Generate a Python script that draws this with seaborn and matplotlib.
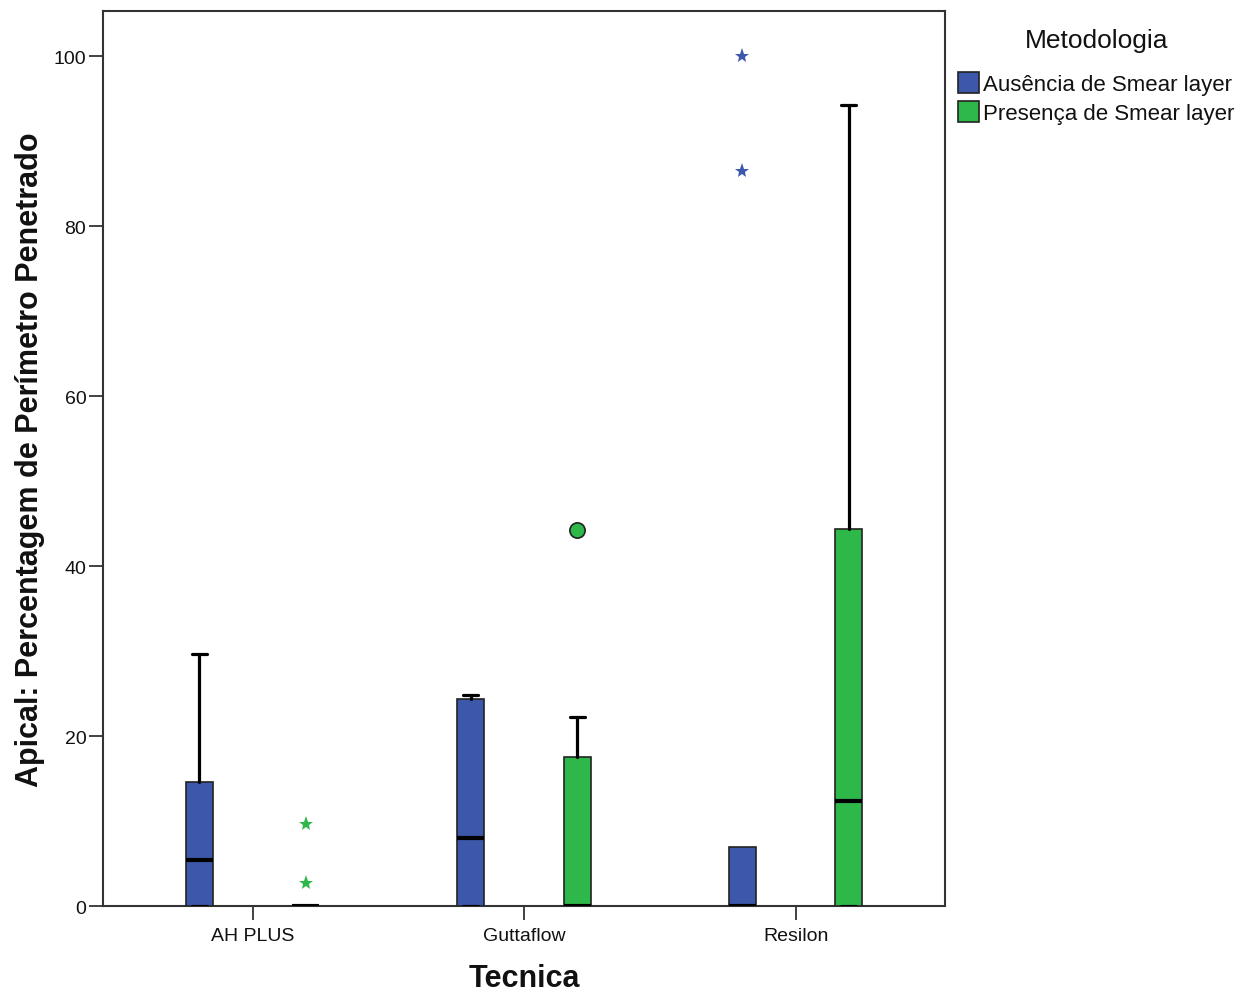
import matplotlib
matplotlib.use("Agg")
import matplotlib.pyplot as plt
from matplotlib.patches import Patch
import seaborn as sns

# ---- data ----
tecnicas = ["AH PLUS", "Guttaflow", "Resilon"]
metodologias = ["Ausência de Smear layer", "Presença de Smear layer"]

aus_q1 = [0.0, 0.0, 0.0]
aus_med = [5.4, 8.0, 0.0]
aus_q3 = [14.6, 24.3, 6.9]
aus_wlo = [0.0, 0.0, 0.0]
aus_whi = [29.6, 24.8, 6.9]
aus_out = [[], [], [100.0, 86.5]]
aus_out_kind = [[], [], ["*", "*"]]

pre_q1 = [0.0, 0.0, 0.0]
pre_med = [0.0, 0.0, 12.3]
pre_q3 = [0.0, 17.5, 44.3]
pre_wlo = [0.0, 0.0, 0.0]
pre_whi = [0.0, 22.2, 94.2]
pre_out = [[9.6, 2.7], [44.2], []]
pre_out_kind = [["*", "*"], ["o"], []]

colors = ["#3d58aa", "#2fb84a"]

sns.set_style("white")
plt.rcParams["font.family"] = ["Liberation Sans", "DejaVu Sans"]

fig = plt.figure(figsize=(12.52, 10.03), dpi=100)
ax = fig.add_axes([0.0823, 0.0957, 0.6725, 0.8923])

groups = [
    (aus_q1, aus_med, aus_q3, aus_wlo, aus_whi, aus_out, aus_out_kind),
    (pre_q1, pre_med, pre_q3, pre_wlo, pre_whi, pre_out, pre_out_kind),
]
offsets = [-0.197, 0.195]

for gi, (q1, med, q3, wlo, whi, outs, kinds) in enumerate(groups):
    for ci in range(len(tecnicas)):
        stats = [dict(q1=q1[ci], med=med[ci], q3=q3[ci],
                      whislo=wlo[ci], whishi=whi[ci], fliers=[])]
        # SPSS draws no cap when the whisker has zero length
        cw = 0.055 if whi[ci] > q3[ci] else 0.0
        ax.bxp(stats, positions=[ci + offsets[gi]], widths=0.1, capwidths=cw,
               showfliers=False, patch_artist=True,
               boxprops=dict(facecolor=colors[gi], edgecolor="#222222", linewidth=1.2),
               medianprops=dict(color="black", linewidth=3.0, solid_capstyle="butt"),
               whiskerprops=dict(color="black", linewidth=2.3),
               capprops=dict(color="black", linewidth=2.3),
               manage_ticks=False, zorder=3)
        for v, k in zip(outs[ci], kinds[ci]):
            if k == "*":
                ax.plot(ci + offsets[gi], v, marker="*", markersize=11,
                        color=colors[gi], markeredgewidth=0, linestyle="none", zorder=4)
            else:
                ax.plot(ci + offsets[gi], v, marker="o", markersize=11,
                        markerfacecolor=colors[gi], markeredgecolor="#222222",
                        markeredgewidth=1.2, linestyle="none", zorder=4)

ax.set_xlim(-0.552, 2.55)
ax.set_ylim(0, 105.3)
ax.set_xticks(range(len(tecnicas)))
ax.set_xticklabels(tecnicas, fontsize=14)
ax.set_yticks([0, 20, 40, 60, 80, 100])
ax.set_yticklabels(["0", "20", "40", "60", "80", "100"], fontsize=14)
ax.tick_params(axis="x", pad=5)
ax.tick_params(axis="y", pad=2)
ax.tick_params(axis="both", direction="out", length=10, width=1.3, color="#333333",
               labelcolor="#111111", left=True, bottom=True)
for s in ax.spines.values():
    s.set_color("#333333")
    s.set_linewidth(1.5)

ax.set_xlabel("Tecnica", fontsize=22, fontweight="bold", labelpad=14, color="#111111")
ax.set_ylabel("Apical: Percentagem de Perímetro Penetrado", fontsize=22,
              fontweight="bold", labelpad=6, color="#111111")

fig.text(0.876, 1 - 41 / 1003, "Metodologia", ha="center", va="center",
         fontsize=19, color="#111111")
handles = [Patch(facecolor=colors[i], edgecolor="#222222", linewidth=1.2,
                 label=metodologias[i]) for i in range(2)]
leg = fig.legend(handles=handles, loc="upper left",
                 bbox_to_anchor=(0.758, 1 - 64 / 1003), frameon=False, fontsize=16,
                 handlelength=0.95, handleheight=1.1,
                 handletextpad=0.2, labelspacing=0.25, borderaxespad=0.0)
for t in leg.get_texts():
    t.set_color("#111111")

fig.savefig("out.png", dpi=100)
